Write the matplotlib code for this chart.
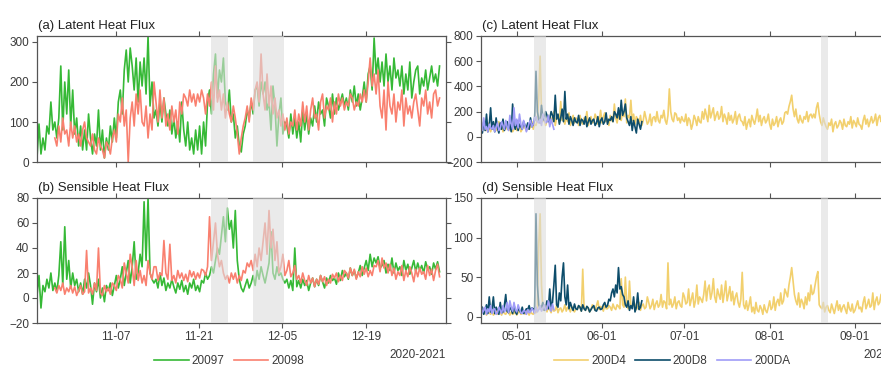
#Heat flux comparison: 2020-2021 buoys (left) and 2021 buoys (right)
import pandas as pd
import matplotlib
matplotlib.use('Agg')
import matplotlib.pyplot as plt
import matplotlib.dates as mdates

plt.rcParams['font.family'] = ['Liberation Sans', 'DejaVu Sans']

# ---- left panels, 8-hourly values ----
lhf_20097 = [10,95,20, 60,30,90, 70,150,80, 100,60,110, 240,80,200,
             120,230,90, 180,70,110, 40,90,30, 80,30,120, 60,20,70,
             40,130,30, 80,10,60, 30,90,50, 110,60,150, 180,120,230,
             280,200,285, 240,180,260, 150,250,190, 260,170,315, 140,200,110,
             130,90,150, 100,160,120, 90,130,70, 110,60,100, 50,150,80,
             40,100,30, 60,20,80, 30,90,20, 100,40,150, 180,120,220,
             270,160,230, 200,260,150, 130,180,100, 120,60,90, 40,25,70,
             90,130,110, 150,120,180, 190,140,200, 170,200,130, 150,80,190,
             140,40,120, 160,70,100, 90,60,120, 70,110,60, 100,50,130,
             80,120,70, 110,90,140, 100,150,120, 130,90,160, 140,110,170,
             120,160,130, 150,170,140, 160,130,180, 150,190,140, 170,130,160,
             200,150,220, 240,180,310, 220,260,200, 250,190,270, 200,240,180,
             260,210,230, 190,240,170, 220,180,250, 160,200,230, 240,170,210,
             190,230,180, 210,240,200, 220,190,240]
lhf_20098 = [60,40,90, 50,110,70, 80,40,100, 60,90,50, 70,40,80,
             100,60,50, 40,70,30, 20,60,40, 30,10,50, 40,20,60,
             80,50,120, 100,160,90, 130,0,110, 150,90,170, 120,180,100,
             90,140,60, 120,80,200, 150,100,180, 110,160,90, 120,80,140,
             100,130,70, 150,120,170, 160,140,180, 150,170,140, 170,150,180,
             160,120,170, 140,200,130, 240,150,180, 130,170,110, 150,120,100,
             140,110,70, 20,60,90, 110,140,100, 160,130,180, 200,150,270,
             170,130,220, 140,190,120, 160,110,130, 90,120,80, 110,70,100,
             90,130,80, 120,90,150, 100,140,80, 130,160,110, 120,80,150,
             170,110,140, 130,160,100, 150,120,170, 140,160,130, 150,140,170,
             160,130,150, 140,170,150, 180,150,200, 260,190,220, 170,230,140,
             110,180,80, 200,140,120, 170,100,150, 130,180,90, 160,120,140,
             110,150,170, 130,90,160, 140,180,120, 150,110,170, 180,140,160]
shf_20097 = [2,18,-8, 10,5,15, 8,20,6, 12,5,18, 45,10,57,
             15,30,8, 20,10,15, 5,12,3, 15,8,20, 10,-5,12,
             5,15,0, 8,-3,10, 6,12,2, 10,18,8, 15,25,10,
             20,30,12, 25,45,15, 20,35,25, 77,30,80, 20,15,12,
             15,8,20, 10,16,6, 12,8,15, 9,4,12, 7,14,5,
             10,3,12, 8,15,6, 10,5,14, 12,20,15, 18,25,20,
             30,40,35, 50,65,45, 72,55,62, 40,70,30, 15,8,5,
             10,15,8, 12,18,10, 22,15,25, 18,12,20, 28,53,20,
             15,25,18, 20,15,12, 15,8,14, 6,40,9, 14,8,15,
             10,14,6, 12,16,9, 15,10,18, 13,8,16, 12,18,14,
             16,11,20, 14,22,17, 20,15,24, 18,22,16, 20,26,18,
             24,30,22, 35,25,32, 28,33,24, 26,30,20, 27,22,32,
             20,28,22, 25,18,30, 22,27,19, 24,30,21, 28,22,26,
             20,29,23, 25,19,28, 23,29,21]
shf_20098 = [8,4,10, 6,12,3, 8,5,10, 4,9,2, 6,10,3,
             5,38,4, 8,3,12, 6,40,4, 2,10,5, 8,3,12,
             10,6,18, 15,8,28, 20,12,35, 25,10,30, 14,22,12,
             18,10,30, 20,15,25, 25,14,20, 18,46,20, 15,43,14,
             18,12,22, 16,20,14, 19,13,22, 17,21,15, 20,16,23,
             22,18,25, 65,30,45, 60,35,25, 30,20,15, 18,12,20,
             15,20,12, 18,14,22, 20,28,25, 30,22,35, 25,40,30,
             45,60,35, 70,40,55, 30,45,20, 25,35,18, 22,30,17,
             20,26,15, 18,12,20, 14,10,18, 12,16,9, 15,11,18,
             13,17,10, 15,12,19, 16,20,13, 18,14,22, 20,16,24,
             18,23,15, 21,17,25, 19,24,17, 22,18,26, 25,30,21,
             32,24,28, 20,27,18, 24,15,21, 18,26,14, 22,17,25,
             20,13,23, 17,24,19, 21,15,26, 18,23,14, 22,27,17]

# ---- right panels, 12-hourly values ----
lhf_200D4 = [60,90, 50,110, 70,40, 80,60, 100,50,
             70,120, 60,90, 40,80, 110,60, 70,50,
             90,40, 60,100, 50,70, 80,40, 60,90,
             70,50, 90,60, 80,120, 60,100, 90,140,
             300,640, 200,120, 150,90, 130,170, 100,150,
             120,200, 90,150, 170,110, 280,130, 140,100,
             160,120, 190,90, 130,170, 110,150, 140,90,
             170,120, 100,150, 130,200, 90,140, 160,110,
             120,180, 150,100, 130,210, 110,160, 190,120,
             140,90, 170,130, 120,260, 150,110, 180,140,
             130,200, 160,300, 110,170, 150,290, 130,180,
             100,160, 140,110, 170,90, 130,200, 150,100,
             120,180, 90,150, 160,120, 200,130, 110,170,
             150,210, 130,100, 170,380, 200,140, 120,190,
             180,130, 150,110, 160,130, 120,180, 90,150,
             130,60, 100,170, 140,90, 160,120, 110,200,
             140,220, 170,120, 250,150, 190,230, 130,170,
             200,140, 160,240, 120,180, 150,100, 190,130,
             170,110, 140,200, 100,160, 180,130, 120,90,
             160,60, 110,140, 80,170, 130,100, 150,220,
             120,170, 90,140, 160,110, 130,180, 100,60,
             140,90, 110,160, 80,130, 150,100, 120,190,
             200,180, 240,280, 330,220, 160,220, 140,110,
             170,130, 110,160, 140,200, 120,170, 180,150,
             180,150, 230,270, 180,120, 90,150, 110,80,
             60,110, 90,140, 40,100, 120,70, 90,130,
             110,60, 140,90, 80,120, 100,160, 70,130,
             110,80, 150,100, 90,60, 130,170, 100,140,
             80,120, 160,110, 130,180, 90,150, 170,120,
             150,200, 130,170, 180,150]
lhf_200D8 = [60,30, 120,50, 180,40, 90,230, 60,120,
             40,150, 70,30, 110,60, 140,50, 80,120,
             60,100, 40,260, 90,60, 130,50, 100,80,
             60,120, 90,70, 110,60, 150,80, 100,130,
             520,200, 140,110, 250,150, 130,200, 170,120,
             140,200, 170,120, 330,140, 180,100, 150,220,
             120,360, 140,180, 100,160, 130,90, 150,120,
             110,170, 90,140, 130,100, 160,80, 120,150,
             100,130, 140,90, 110,160, 80,130, 150,100,
             120,190, 100,140, 130,160, 120,200, 180,150,
             230,140, 290,170, 200,260, 150,120, 90,160,
             50,130, 80,30, 140,100, 60,120]
lhf_200DA = [120,50, 150,60, 80,40, 100,70, 60,90,
             40,80, 110,50, 70,120, 90,60, 130,80,
             50,170, 100,60, 230,90, 140,70, 180,100,
             60,130, 90,40, 70,110, 130,80, 100,150,
             160,120, 110,140, 90,180, 150,110, 120,170,
             80,140, 100,60]
shf_200D4 = [4,8, 2,6, 5,3, 7,2, 4,9,
             3,6, 5,2, 8,4, 3,7, 5,2,
             6,3, 4,8, 2,5, 7,3, 4,6,
             3,8, 5,2, 6,4, 3,9, 5,12,
             92,130, 40,10, 8,15, 6,12, 9,5,
             12,7, 8,14, 5,10, 11,6, 9,15,
             7,12, 10,6, 13,8, 6,10, 9,14,
             12,7, 60,10, 8,13, 11,6, 9,15,
             12,8, 14,20, 9,13, 11,7, 15,10,
             10,14, 12,8, 16,11, 9,15, 13,10,
             48,15, 12,50, 18,10, 45,14, 11,20,
             15,9, 12,18, 8,14, 16,10, 12,25,
             18,10, 14,22, 9,16, 20,12, 15,28,
             12,20, 18,10, 68,15, 22,12, 16,25,
             10,18, 20,14, 12,30, 25,16, 18,35,
             14,22, 30,12, 20,40, 16,25, 22,18,
             28,45, 20,35, 40,22, 30,48, 25,18,
             35,28, 22,40, 18,30, 45,20, 28,38,
             20,32, 15,25, 30,18, 12,22, 56,15,
             10,20, 8,15, 25,6, 12,4, 18,8,
             6,14, 10,3, 15,8, 5,12, 20,9,
             12,25, 8,18, 22,14, 30,16, 20,35,
             30,25, 40,50, 62,45, 28,20, 15,30,
             12,22, 18,10, 25,15, 30,20, 40,28,
             30,40, 50,57, 15,12, 10,18, 6,12,
             14,8, 5,16, 10,4, 12,20, 8,15,
             6,12, 15,9, 4,18, 10,7, 16,5,
             8,14, 20,10, 12,6, 18,25, 10,15,
             22,12, 14,30, 9,20, 25,15, 18,28,
             30,20, 22,35, 28,25]
shf_200D8 = [5,12, 3,8, 15,4, 25,6, 10,25,
             4,12, 8,3, 18,5, 6,14, 28,7,
             5,12, 9,4, 15,6, 3,10, 8,5,
             12,4, 6,10, 9,14, 7,11, 10,6,
             130,40, 15,10, 12,18, 8,14, 20,10,
             35,12, 18,40, 65,15, 12,30, 20,50,
             68,25, 15,40, 10,18, 12,8, 16,10,
             9,14, 12,7, 15,10, 8,13, 11,6,
             9,12, 14,8, 7,11, 12,9, 10,15,
             18,12, 14,22, 20,30, 35,25, 40,30,
             62,35, 38,28, 25,15, 12,20, 8,14,
             10,25, 6,12, 30,9, 12,20]
shf_200DA = [15,5, 8,12, 3,10, 6,14, 4,9,
             10,3, 5,12, 8,4, 14,6, 9,18,
             5,20, 12,7, 18,9, 6,15, 10,5,
             4,8, 7,3, 9,5, 6,11, 8,4,
             12,6, 9,14, 7,10, 15,8, 10,20,
             12,7, 16,9]

left_ticks = ['2020-11-07', '2020-11-21', '2020-12-05', '2020-12-19']
right_ticks = ['2021-05-01', '2021-06-01', '2021-07-01', '2021-08-01', '2021-09-01']
left_shade = [('2020-11-22 22:00', '2020-11-25 19:00'), ('2020-11-30 00:00', '2020-12-05 05:00')]
right_shade = [('2021-05-07 10:00', '2021-05-11 12:00'), ('2021-08-19 12:00', '2021-08-22 02:00')]

c_97, c_98 = '#36b936', '#f9806f'
c_d4, c_d8, c_da = '#f2d06e', '#0d4d6b', '#a09cf7'
txt_col = '#3a3a3a'


def times(start, vals, step):
    return pd.date_range(start, periods=len(vals), freq=step)


def style(ax, ticks, shades, ylim, yticks, xlim, show_dates):
    ax.set_xlim(pd.Timestamp(xlim[0]), pd.Timestamp(xlim[1]))
    ax.set_ylim(*ylim)
    ax.set_yticks(yticks)
    ax.set_xticks(pd.to_datetime(ticks))
    ax.xaxis.set_major_formatter(mdates.DateFormatter('%m-%d'))
    for s0, s1 in shades:
        ax.axvspan(pd.Timestamp(s0), pd.Timestamp(s1), color='#dcdcdc', alpha=0.6, lw=0, zorder=3)
    ax.tick_params(direction='out', length=3.5, width=0.8, top=True, right=True,
                   labelsize=8.5, colors='#555555', labelcolor=txt_col, pad=2,
                   labelbottom=show_dates)
    for sp in ax.spines.values():
        sp.set_color('#555555')
        sp.set_linewidth(0.9)


fig = plt.figure(figsize=(8.81, 3.68), dpi=100)
W, H = 881, 368
ax_a = fig.add_axes([37/W, 1-162/H, 409/W, 126/H])
ax_b = fig.add_axes([37/W, 1-323/H, 409/W, 125/H])
ax_c = fig.add_axes([481/W, 1-162/H, 409/W, 126/H])
ax_d = fig.add_axes([481/W, 1-323/H, 409/W, 125/H])

lw = 1.2
l97, = ax_a.plot(times('2020-10-24 18:00', lhf_20097, '8h'), lhf_20097, color=c_97, lw=lw)
l98, = ax_a.plot(times('2020-10-27 18:00', lhf_20098, '8h'), lhf_20098, color=c_98, lw=lw)
ax_b.plot(times('2020-10-24 18:00', shf_20097, '8h'), shf_20097, color=c_97, lw=lw)
ax_b.plot(times('2020-10-27 18:00', shf_20098, '8h'), shf_20098, color=c_98, lw=lw)

ld4, = ax_c.plot(times('2021-04-19', lhf_200D4, '12h'), lhf_200D4, color=c_d4, lw=lw)
ld8, = ax_c.plot(times('2021-04-18', lhf_200D8, '12h'), lhf_200D8, color=c_d8, lw=lw)
lda, = ax_c.plot(times('2021-04-18', lhf_200DA, '12h'), lhf_200DA, color=c_da, lw=lw)
ax_d.plot(times('2021-04-19', shf_200D4, '12h'), shf_200D4, color=c_d4, lw=lw)
ax_d.plot(times('2021-04-18', shf_200D8, '12h'), shf_200D8, color=c_d8, lw=lw)
ax_d.plot(times('2021-04-18', shf_200DA, '12h'), shf_200DA, color=c_da, lw=lw)

left_lim = ('2020-10-24 18:00', '2021-01-01 12:00')
right_lim = ('2021-04-18 00:00', '2021-09-13 18:00')
style(ax_a, left_ticks, left_shade, (0, 315), [0, 100, 200, 300], left_lim, False)
style(ax_b, left_ticks, left_shade, (-20, 80), [-20, 0, 20, 40, 60, 80], left_lim, True)
style(ax_c, right_ticks, right_shade, (-200, 800), [-200, 0, 200, 400, 600, 800], right_lim, False)
style(ax_d, right_ticks, right_shade, (-8, 150), [0, 50, 100, 150], right_lim, True)

for ax, lab in [(ax_a, '(a) Latent Heat Flux'), (ax_b, '(b) Sensible Heat Flux'),
                (ax_c, '(c) Latent Heat Flux'), (ax_d, '(d) Sensible Heat Flux')]:
    ax.text(0.003, 1.055, lab, transform=ax.transAxes, ha='left', va='baseline',
            fontsize=9.5, color='#222222')

ax_b.text(1.0, -0.255, '2020-2021', transform=ax_b.transAxes, ha='right', va='center',
          fontsize=8.5, color=txt_col)
# the right-hand axes run past the figure edge, as in the original layout
ax_d.text(1.0, -0.255, '2021', transform=ax_d.transAxes, ha='right', va='center',
          fontsize=8.5, color=txt_col)

fig.legend([l97, l98], ['20097', '20098'], loc='center', bbox_to_anchor=(229/W, 1-361/H),
           ncol=2, frameon=False, handlelength=2.9, handletextpad=0.25, columnspacing=0.8,
           fontsize=8.5, labelcolor=txt_col)
fig.legend([ld4, ld8, lda], ['200D4', '200D8', '200DA'], loc='center',
           bbox_to_anchor=(672/W, 1-361/H), ncol=3, frameon=False, handlelength=2.9,
           handletextpad=0.25, columnspacing=0.8, fontsize=8.5, labelcolor=txt_col)

plt.savefig('out.png', dpi=100)
